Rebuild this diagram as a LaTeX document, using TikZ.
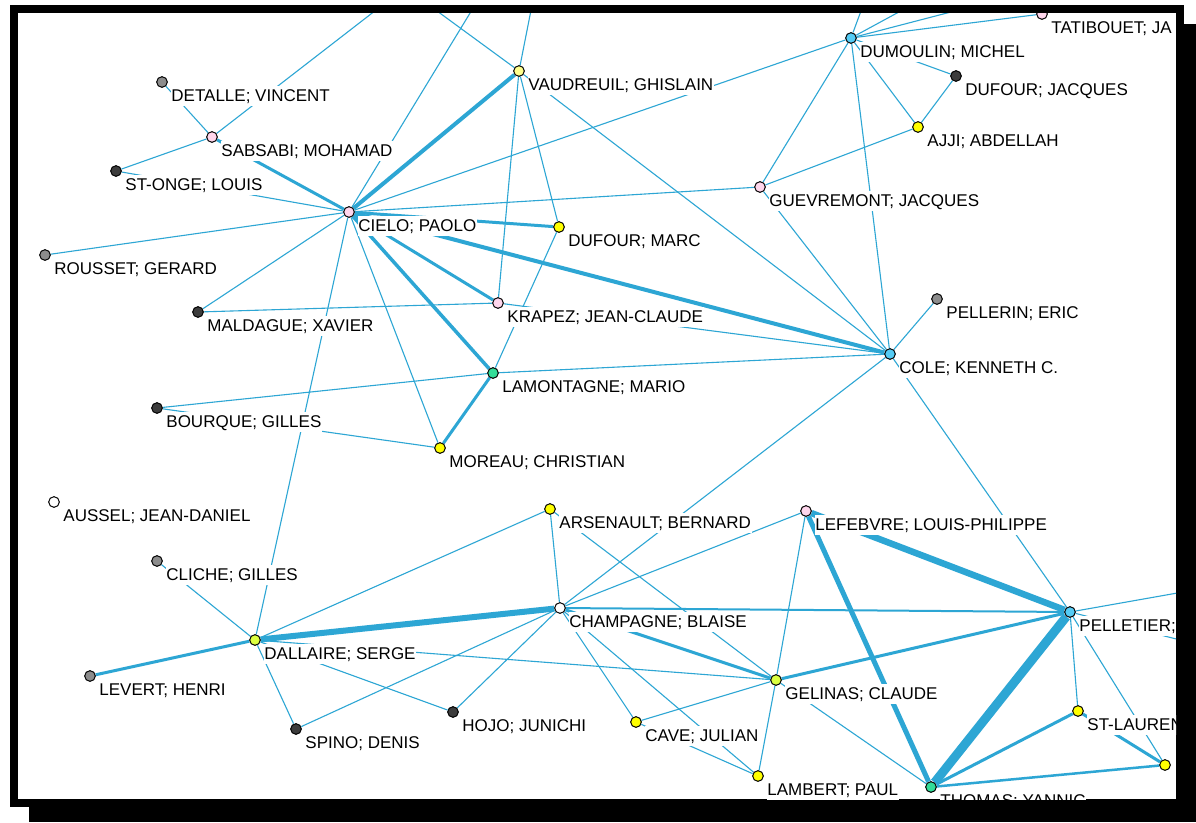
\documentclass[tikz,border=0pt]{standalone}
\usepackage{fontspec}
\setmainfont{Liberation Sans}
\pgfdeclarelayer{back}
\pgfdeclarelayer{edges}
\pgfsetlayers{back,edges,main}
\definecolor{edgec}{RGB}{45,166,212}
\definecolor{cgray}{RGB}{140,140,140}
\definecolor{cdark}{RGB}{60,60,60}
\definecolor{cpink}{RGB}{255,214,236}
\definecolor{cpyellow}{RGB}{255,255,140}
\definecolor{cyellow}{RGB}{255,255,0}
\definecolor{clime}{RGB}{220,255,64}
\definecolor{ccyan}{RGB}{85,204,245}
\definecolor{cgreen}{RGB}{51,221,153}
\tikzset{
  mk/.style={circle, draw=black, line width=0.75pt, minimum size=8pt, inner sep=0pt},
  lab/.style={anchor=base west, fill=white, inner xsep=0.5pt, inner ysep=2pt,
    text height=9.2pt, text depth=1.5pt, font=\fontsize{12.75}{14}\selectfont, text=black},
  ew/.style={draw=edgec, line width=#1*0.75pt},
  e/.style={ew=1.1}
}
\newcommand\addperson[5]{%
  \node[mk, fill=#4] (#1) at (#2,#3) {};
  \node[lab] (#1-l) at (#2+8.5,#3+19) {#5};}
\newcommand\addmarker[4]{%
  \node[mk, fill=#4] (#1) at (#2,#3) {};}
\begin{document}
\begin{tikzpicture}[x=0.75pt,y=-0.75pt]
\useasboundingbox (0,0) rectangle (1196,822);
\begin{pgfonlayer}{back}
  \fill[white] (0,0) rectangle (1196,822);
  \fill[black] (29,24) rectangle (1196,822);
  \fill[black] (10,5) rectangle (1184,807);
  \fill[white] (18,13) rectangle (1176,799);
\end{pgfonlayer}
\begin{scope}
\clip (18,13) rectangle (1176,799);
\addperson{detalle}{162}{82}{cgray}{DETALLE; VINCENT}
\addperson{sabsabi}{212}{137}{cpink}{SABSABI; MOHAMAD}
\addperson{stonge}{116}{171}{cdark}{ST-ONGE; LOUIS}
\addperson{rousset}{45}{255}{cgray}{ROUSSET; GERARD}
\addperson{cielo}{349}{212}{cpink}{CIELO; PAOLO}
\addperson{vaudreuil}{519}{71}{cpyellow}{VAUDREUIL; GHISLAIN}
\addperson{dufourm}{559}{227}{cyellow}{DUFOUR; MARC}
\addperson{guevremont}{760}{187}{cpink}{GUEVREMONT; JACQUES}
\addperson{dumoulin}{851}{38}{ccyan}{DUMOULIN; MICHEL}
\addperson{tatibouet}{1042}{14}{cpink}{TATIBOUET; JA}
\addperson{dufourj}{956}{76}{cdark}{DUFOUR; JACQUES}
\addperson{ajji}{918}{127}{cyellow}{AJJI; ABDELLAH}
\addperson{maldague}{198}{312}{cdark}{MALDAGUE; XAVIER}
\addperson{krapez}{498}{303}{cpink}{KRAPEZ; JEAN-CLAUDE}
\addperson{lamontagne}{493}{373}{cgreen}{LAMONTAGNE; MARIO}
\addperson{moreau}{440}{448}{cyellow}{MOREAU; CHRISTIAN}
\addperson{bourque}{157}{408}{cdark}{BOURQUE; GILLES}
\addperson{aussel}{54}{502}{white}{AUSSEL; JEAN-DANIEL}
\addperson{cole}{890}{354}{ccyan}{COLE; KENNETH C.}
\addperson{pellerin}{937}{299}{cgray}{PELLERIN; ERIC}
\addperson{arsenault}{550}{509}{cyellow}{ARSENAULT; BERNARD}
\addperson{lefebvre}{806}{511}{cpink}{LEFEBVRE; LOUIS-PHILIPPE}
\addperson{cliche}{157}{561}{cgray}{CLICHE; GILLES}
\addperson{dallaire}{255}{640}{clime}{DALLAIRE; SERGE}
\addperson{levert}{90}{676}{cgray}{LEVERT; HENRI}
\addperson{spino}{296}{729}{cdark}{SPINO; DENIS}
\addperson{champagne}{560}{608}{white}{CHAMPAGNE; BLAISE}
\addperson{hojo}{453}{712}{cdark}{HOJO; JUNICHI}
\addperson{cave}{636}{722}{cyellow}{CAVE; JULIAN}
\addperson{gelinas}{776}{680}{clime}{GELINAS; CLAUDE}
\addperson{lambert}{758}{776}{cyellow}{LAMBERT; PAUL}
\addperson{pelletier}{1070}{612}{ccyan}{PELLETIER;}
\addperson{stlauren}{1078}{711}{cyellow}{ST-LAUREN}
\addmarker{nf}{1165}{765}{cyellow}
\addperson{thomas}{931}{787}{cgreen}{THOMAS; YANNIC}
\coordinate (t1) at (389,0);
\coordinate (t2) at (478,0);
\coordinate (t3) at (422,0);
\coordinate (t4) at (533,0);
\coordinate (t5) at (865,0);
\coordinate (t6) at (921,0);
\coordinate (t7) at (997,0);
\coordinate (r1) at (1200,589);
\coordinate (r2) at (1200,645);
\end{scope}
\begin{pgfonlayer}{edges}
\begin{scope}
\clip (18,13) rectangle (1176,799);
\draw[e] (sabsabi) -- (detalle);
\draw[e] (sabsabi) -- (stonge);
\draw[e] (sabsabi) -- (t1);
\draw[e] (stonge) -- (cielo);
\draw[e] (rousset) -- (cielo);
\draw[e] (maldague) -- (cielo);
\draw[e] (maldague) -- (krapez);
\draw[e] (cielo) -- (guevremont);
\draw[e] (cielo) -- (dumoulin);
\draw[e] (cielo) -- (t2);
\draw[e] (cielo) -- (moreau);
\draw[e] (cielo) -- (dallaire);
\draw[e] (vaudreuil) -- (t3);
\draw[e] (vaudreuil) -- (t4);
\draw[e] (vaudreuil) -- (dufourm);
\draw[e] (vaudreuil) -- (krapez);
\draw[e] (vaudreuil) -- (cole);
\draw[e] (lamontagne) -- (dufourm);
\draw[e] (krapez) -- (cole);
\draw[e] (lamontagne) -- (cole);
\draw[e] (bourque) -- (lamontagne);
\draw[e] (bourque) -- (moreau);
\draw[e] (dumoulin) -- (tatibouet);
\draw[e] (dumoulin) -- (dufourj);
\draw[e] (dumoulin) -- (ajji);
\draw[e] (dumoulin) -- (guevremont);
\draw[e] (dumoulin) -- (cole);
\draw[e] (dumoulin) -- (t5);
\draw[e] (dumoulin) -- (t6);
\draw[e] (dumoulin) -- (t7);
\draw[e] (ajji) -- (guevremont);
\draw[e] (ajji) -- (dufourj);
\draw[e] (guevremont) -- (cole);
\draw[e] (cole) -- (pellerin);
\draw[e] (cole) -- (champagne);
\draw[e] (cole) -- (pelletier);
\draw[e] (dallaire) -- (cliche);
\draw[e] (dallaire) -- (arsenault);
\draw[e] (dallaire) -- (spino);
\draw[e] (dallaire) -- (gelinas);
\draw[e] (dallaire) -- (hojo);
\draw[e] (spino) -- (champagne);
\draw[e] (hojo) -- (champagne);
\draw[e] (champagne) -- (arsenault);
\draw[e] (arsenault) -- (gelinas);
\draw[e] (champagne) -- (lefebvre);
\draw[e] (champagne) -- (cave);
\draw[e] (champagne) -- (lambert);
\draw[e] (cave) -- (gelinas);
\draw[e] (cave) -- (lambert);
\draw[e] (gelinas) -- (lambert);
\draw[e] (gelinas) -- (lefebvre);
\draw[e] (gelinas) -- (thomas);
\draw[e] (pelletier) -- (stlauren);
\draw[e] (pelletier) -- (nf);
\draw[e] (pelletier) -- (r1);
\draw[e] (pelletier) -- (r2);
\draw[ew=3] (sabsabi) -- (cielo);
\draw[ew=4] (cielo) -- (vaudreuil);
\draw[ew=3] (cielo) -- (dufourm);
\draw[ew=3] (cielo) -- (krapez);
\draw[ew=3.5] (cielo) -- (lamontagne);
\draw[ew=4] (cielo) -- (cole);
\draw[ew=3] (lamontagne) -- (moreau);
\draw[ew=3] (dallaire) -- (levert);
\draw[ew=6] (dallaire) -- (champagne);
\draw[ew=3] (champagne) -- (gelinas);
\draw[ew=2] (champagne) -- (pelletier);
\draw[ew=3] (gelinas) -- (pelletier);
\draw[ew=5] (lefebvre) -- (thomas);
\draw[ew=6.5] (lefebvre) -- (pelletier);
\draw[ew=9] (pelletier) -- (thomas);
\draw[ew=3] (stlauren) -- (thomas);
\draw[ew=3] (stlauren) -- (nf);
\draw[ew=2.5] (thomas) -- (nf);
\end{scope}
\end{pgfonlayer}
\end{tikzpicture}
\end{document}
